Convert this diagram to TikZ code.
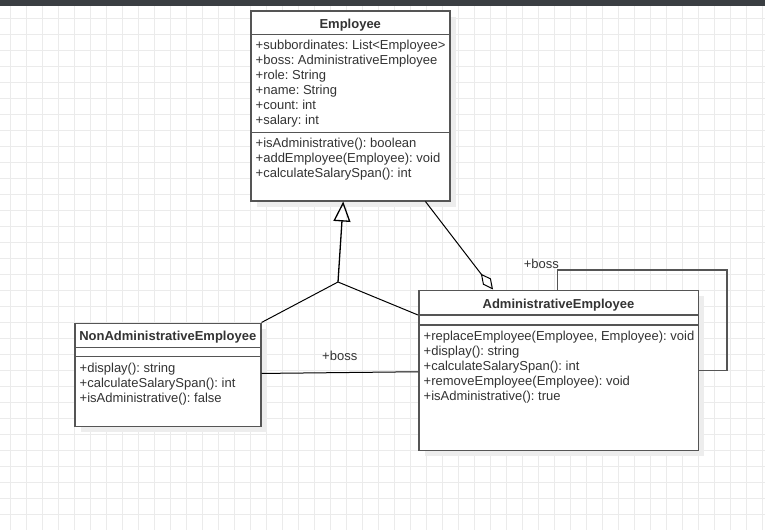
\documentclass[tikz,border=0pt]{standalone}
\usepackage{fontspec}
\setmainfont{Liberation Sans}
\frenchspacing
\usetikzlibrary{arrows.meta, calc, shadows}
\definecolor{bord}{HTML}{555555}
\definecolor{texte}{HTML}{333333}
\definecolor{grille}{HTML}{EBEBEB}
\definecolor{barre}{HTML}{3A3E42}
\tikzset{
    classe/.style={
        draw=bord, line width=1.5pt, fill=white, inner sep=0pt, anchor=north west,
        drop shadow={shadow xshift=6pt, shadow yshift=-6pt, fill=black!7, opacity=1}
    },
    separ/.style={draw=bord, line width=1.5pt},
    titre/.style={font=\fontsize{13}{15}\selectfont\bfseries, text=texte, anchor=base, inner sep=0pt},
    ligne/.style={font=\fontsize{13}{15}\selectfont, text=texte, anchor=base west, inner sep=0pt},
    role/.style={font=\fontsize{13}{15}\selectfont, text=texte, inner sep=0pt},
    lien/.style={draw=black, line width=1pt},
    herite/.style={lien, line width=1.3pt, -{Triangle[open, length=20pt, width=17pt]}},
    agreg/.style={lien, -{Diamond[open, length=20pt, width=10pt]}},
    boucle/.style={draw=bord, line width=1.5pt}
}
\begin{document}
\begin{tikzpicture}[x=1pt, y=-1pt]
	\useasboundingbox (0,0) rectangle (765,530);
	
	% Fond quadrillé
	\foreach \gx in {0,...,47}
		\draw[grille, line width=1pt] (10.5+16*\gx,0) -- (10.5+16*\gx,530);
	\foreach \gy in {0,...,31}
		\draw[grille, line width=1pt] (0,18.5+16*\gy) -- (765,18.5+16*\gy);
	\fill[barre] (0,0) rectangle (765,6);
	
	% Classe Employee
	\node[classe, minimum width=199pt, minimum height=190pt] (emp) at (250,10) {};
	\draw[separ] ([yshift=-24.7pt]emp.north west) -- ([yshift=-24.7pt]emp.north east);
	\draw[separ] ([yshift=-122.7pt]emp.north west) -- ([yshift=-122.7pt]emp.north east);
	\node[titre] (emp-nom) at ([yshift=-18.1pt]emp.north) {Employee};
	\foreach \txt [count=\i] in {+subbordinates: List<Employee>, +boss: AdministrativeEmployee,
			+role: String, +name: String, +count: int, +salary: int}
		\node[ligne] (emp-a\i) at ([xshift=5.5pt, yshift={-24.8pt-15pt*\i}]emp.north west) {\txt};
	\foreach \txt [count=\i] in {+isAdministrative(): boolean, +addEmployee(Employee): void,
			+calculateSalarySpan(): int}
		\node[ligne] (emp-m\i) at ([xshift=5.5pt, yshift={-122.8pt-15pt*\i}]emp.north west) {\txt};
	
	% Classe AdministrativeEmployee
	\node[classe, minimum width=279.5pt, minimum height=160pt] (adm) at (418,289.5) {};
	\draw[separ] ([yshift=-25.5pt]adm.north west) -- ([yshift=-25.5pt]adm.north east);
	\draw[separ] ([yshift=-35.5pt]adm.north west) -- ([yshift=-35.5pt]adm.north east);
	\node[titre] (adm-nom) at ([yshift=-18.6pt]adm.north) {AdministrativeEmployee};
	\foreach \txt [count=\i] in {{+replaceEmployee(Employee, Employee): void}, +display(): string,
			+calculateSalarySpan(): int, +removeEmployee(Employee): void, +isAdministrative(): true}
		\node[ligne] (adm-m\i) at ([xshift=5.5pt, yshift={-35.6pt-15pt*\i}]adm.north west) {\txt};
	
	% Classe NonAdministrativeEmployee
	\node[classe, minimum width=186pt, minimum height=103.2pt] (nonadm) at (74,322.5) {};
	\draw[separ] ([yshift=-24.8pt]nonadm.north west) -- ([yshift=-24.8pt]nonadm.north east);
	\draw[separ] ([yshift=-34.2pt]nonadm.north west) -- ([yshift=-34.2pt]nonadm.north east);
	\node[titre] (nonadm-nom) at ([yshift=-18.1pt]nonadm.north) {NonAdministrativeEmployee};
	\foreach \txt [count=\i] in {+display(): string, +calculateSalarySpan(): int,
			+isAdministrative(): false}
		\node[ligne] (nonadm-m\i) at ([xshift=5.5pt, yshift={-35pt-15pt*\i}]nonadm.north west) {\txt};
	
	% Héritage (deux branches réunies)
	\coordinate (jonction) at (338,282);
	\draw[herite] (jonction) -- ($(emp.south west)!0.465!(emp.south east)$);
	\draw[lien] (jonction) -- (nonadm.north east);
	\draw[lien] (jonction) -- ([yshift=-25.5pt]adm.north west);
	
	% Agrégation vers AdministrativeEmployee
	\draw[agreg] ($(emp.south west)!0.875!(emp.south east)$)
		-- ($(adm.north west)!0.267!(adm.north east)$);
	
	% Associations +boss
	\draw[lien] ([yshift=1.4pt]nonadm.east) -- node[role, midway, above=11pt] (boss-a) {+boss}
		([yshift=-1.5pt]adm.west);
	\draw[boucle] ($(adm.north west)!0.497!(adm.north east)$) -- ++(0,-19.5)
		node[role, anchor=base east, xshift=2pt, yshift=2pt] (boss-b) {+boss}
		-| ([xshift=28pt]adm.east) -- (adm.east);
	
\end{tikzpicture}
\end{document}
